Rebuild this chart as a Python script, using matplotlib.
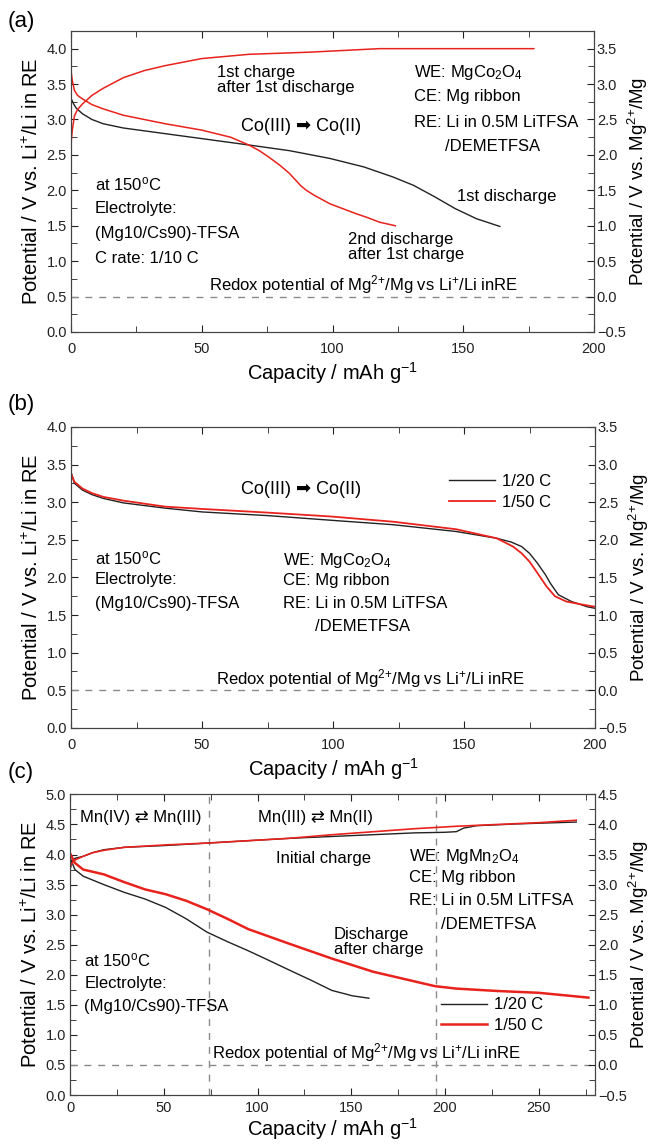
import numpy as np
import matplotlib
matplotlib.use("Agg")
import matplotlib.pyplot as plt
from matplotlib.ticker import MultipleLocator

plt.rcParams['font.family'] = ['Liberation Sans', 'DejaVu Sans']
plt.rcParams['mathtext.fontset'] = 'custom'
plt.rcParams['mathtext.rm'] = 'Liberation Sans'
plt.rcParams['mathtext.it'] = 'Liberation Sans:italic'

RED = '#e8221c'
BLK = '#222222'
GRAY = '#8a8a8a'

# ---- panel (a): MgCo2O4, 1/10 C ----
a_dis1_cap = [0, 1, 2, 4.4, 8, 12.3, 20, 36, 50, 68, 83.5, 99, 112, 123, 131, 139, 147, 155, 164]
a_dis1_v = [3.30, 3.22, 3.16, 3.08, 3.00, 2.94, 2.88, 2.80, 2.73, 2.64, 2.56, 2.45, 2.33, 2.19, 2.07, 1.91, 1.74, 1.60, 1.49]
a_chg1_cap = [0, 0.5, 1.3, 2.5, 4.4, 8, 12.3, 20, 28, 36, 50, 68, 91, 118, 140, 160, 177]
a_chg1_v = [2.66, 2.85, 3.05, 3.14, 3.22, 3.34, 3.44, 3.59, 3.69, 3.76, 3.86, 3.92, 3.95, 4.00, 4.00, 4.00, 4.00]
a_dis2_cap = [0, 0.5, 1.3, 2.5, 4.4, 8, 12.3, 20, 36, 50, 61, 68, 72, 75.6, 80, 83.5, 86, 88, 90, 93, 96, 99, 104, 109, 113, 118, 124]
a_dis2_v = [3.69, 3.55, 3.41, 3.34, 3.29, 3.21, 3.15, 3.06, 2.94, 2.85, 2.75, 2.64, 2.56, 2.47, 2.35, 2.24, 2.14, 2.06, 2.00, 1.93, 1.87, 1.81, 1.74, 1.67, 1.62, 1.55, 1.50]

# ---- panel (b): MgCo2O4, rate comparison ----
b_20_cap = [0, 1.3, 4.4, 8, 12.3, 20, 36, 50, 75.6, 99, 123, 147, 162.5, 168, 172, 175, 178, 181, 183, 186, 191, 197, 200]
b_20_v = [3.40, 3.25, 3.16, 3.10, 3.05, 2.99, 2.92, 2.87, 2.82, 2.76, 2.70, 2.61, 2.52, 2.47, 2.41, 2.32, 2.19, 2.04, 1.92, 1.77, 1.68, 1.61, 1.59]
b_50_cap = [0, 1.3, 4.4, 8, 12.3, 20, 36, 50, 75.6, 99, 123, 147, 162.5, 168.7, 172, 175, 178, 181.5, 184.7, 189, 195, 200]
b_50_v = [3.38, 3.27, 3.18, 3.12, 3.07, 3.02, 2.94, 2.91, 2.86, 2.81, 2.74, 2.64, 2.52, 2.41, 2.32, 2.21, 2.06, 1.88, 1.75, 1.68, 1.64, 1.61]

# ---- panel (c): MgMn2O4 ----
c_chg20_cap = [0, 1.5, 3, 7, 12, 18, 29, 51, 73, 95, 117.5, 139.6, 161.7, 183.7, 200, 206, 210, 217, 239, 270]
c_chg20_v = [3.75, 3.92, 3.94, 3.97, 4.03, 4.08, 4.12, 4.15, 4.19, 4.23, 4.27, 4.30, 4.33, 4.36, 4.37, 4.38, 4.44, 4.48, 4.51, 4.54]
c_chg50_cap = [0, 2, 7, 12, 18, 29, 51, 73, 95, 117, 140, 162, 184, 206, 228, 250, 270]
c_chg50_v = [3.80, 3.90, 3.97, 4.03, 4.07, 4.12, 4.16, 4.19, 4.23, 4.27, 4.33, 4.38, 4.43, 4.47, 4.50, 4.53, 4.57]
c_dis20_cap = [0, 2.6, 7, 18, 29, 40, 51, 62, 73, 84, 95, 106, 117.5, 128.5, 139.6, 150.6, 159.4]
c_dis20_v = [3.95, 3.75, 3.64, 3.50, 3.37, 3.26, 3.12, 2.93, 2.71, 2.55, 2.40, 2.24, 2.07, 1.91, 1.74, 1.65, 1.61]
c_dis50_cap = [0, 2.6, 7, 18, 29, 40, 51, 62, 73, 84, 95, 117.5, 139.6, 161.7, 183.7, 194.7, 206, 228, 250, 276.5]
c_dis50_v = [4.02, 3.86, 3.75, 3.67, 3.54, 3.42, 3.34, 3.23, 3.09, 2.93, 2.76, 2.51, 2.27, 2.05, 1.89, 1.81, 1.77, 1.73, 1.70, 1.62]
c_region_bounds = [74, 195]

redox_v = 0.5
redox_txt = 'Redox potential of Mg$^{2{+}}$/Mg vs Li$^{+}$/Li inRE'
fs_txt = 12

fig = plt.figure(figsize=(6.49, 11.46), dpi=100)


def setup(ax, xmax, ymax, xmajor, xpad=7, xlabpad=3):
    ax.set_xlim(0, xmax)
    ax.set_ylim(0, ymax)
    ax.xaxis.set_major_locator(MultipleLocator(xmajor))
    ax.xaxis.set_minor_locator(MultipleLocator(25))
    ax.yaxis.set_major_locator(MultipleLocator(0.5))
    ax.yaxis.set_minor_locator(MultipleLocator(0.25))
    ax.tick_params(which='both', direction='in', top=True, right=False, labelsize=10.5, colors='#222222', pad=3)
    ax.tick_params(axis='x', which='major', pad=xpad)
    ax.tick_params(which='major', length=5)
    ax.tick_params(which='minor', length=4)
    for s in ax.spines.values():
        s.set_color('#444444')
    ax.set_xlabel('Capacity / mAh g$^{-1}$', fontsize=14.5, labelpad=xlabpad)
    ax.set_ylabel('Potential / V vs. Li$^{+}$/Li in RE', fontsize=14.5, labelpad=3)
    ax.axhline(redox_v, color=GRAY, lw=1, ls=(0, (5, 5)))
    ax2 = ax.twinx()
    ax2.set_ylim(-0.5, ymax - 0.5)
    ax2.yaxis.set_major_locator(MultipleLocator(0.5))
    ax2.yaxis.set_minor_locator(MultipleLocator(0.25))
    ax2.tick_params(which='both', direction='in', labelsize=10.5, colors='#222222', pad=2)
    ax2.tick_params(which='major', length=5)
    ax2.tick_params(which='minor', length=4)
    for s in ax2.spines.values():
        s.set_color('#444444')
    ax2.set_ylabel('Potential / V vs. Mg$^{2{+}}$/Mg', fontsize=13.5, labelpad=0)
    ax2.yaxis.set_major_formatter(plt.FuncFormatter(lambda v, p: ('\u2212%.1f' % -v) if v < -0.01 else '%.1f' % abs(v)))
    return ax2


# (a)
axa = fig.add_axes([0.1094, 0.7103, 0.8059, 0.2627])
setup(axa, 200, 4.25, 50)
axa.plot(a_dis1_cap, a_dis1_v, color=BLK, lw=1)
axa.plot(a_chg1_cap, a_chg1_v, color=RED, lw=1.1)
axa.plot(a_dis2_cap, a_dis2_v, color=RED, lw=1.1)
axa.text(56, 3.56, '1st charge\nafter 1st discharge', fontsize=fs_txt, va='center', linespacing=1.0)
axa.text(131, 3.67, 'WE: MgCo$_2$O$_4$', fontsize=fs_txt, va='center')
axa.text(131, 3.32, 'CE: Mg ribbon', fontsize=fs_txt, va='center')
axa.text(131, 2.96, 'RE: Li in 0.5M LiTFSA', fontsize=fs_txt, va='center')
axa.text(143, 2.62, '/DEMETFSA', fontsize=fs_txt, va='center')
axa.text(65, 2.90, 'Co(III) \u27a1 Co(II)', fontsize=13, va='center')
axa.text(9, 2.09, 'at 150$^{\\mathrm{o}}$C', fontsize=fs_txt, va='center')
axa.text(9, 1.74, 'Electrolyte:', fontsize=fs_txt, va='center')
axa.text(9, 1.39, '(Mg10/Cs90)-TFSA', fontsize=fs_txt, va='center')
axa.text(9, 1.04, 'C rate: 1/10 C', fontsize=fs_txt, va='center')
axa.text(147.5, 1.91, '1st discharge', fontsize=fs_txt, va='center')
axa.text(106, 1.20, '2nd discharge\nafter 1st charge', fontsize=fs_txt, va='center', linespacing=1.0)
axa.text(52.6, 0.67, redox_txt, fontsize=fs_txt, va='center')
fig.text(0.012, 0.981, '(a)', fontsize=16, va='center')

# (b)
axb = fig.add_axes([0.1094, 0.3648, 0.8074, 0.2627])
setup(axb, 200, 4.0, 50)
axb.plot(b_20_cap, b_20_v, color=BLK, lw=1, label='1/20 C')
axb.plot(b_50_cap, b_50_v, color=RED, lw=1.3, label='1/50 C')
axb.text(65, 3.17, 'Co(III) \u27a1 Co(II)', fontsize=13, va='center')
axb.text(9.2, 2.26, 'at 150$^{\\mathrm{o}}$C', fontsize=fs_txt, va='center')
axb.text(9.2, 1.97, 'Electrolyte:', fontsize=fs_txt, va='center')
axb.text(9.2, 1.65, '(Mg10/Cs90)-TFSA', fontsize=fs_txt, va='center')
axb.text(80.8, 2.23, 'WE: MgCo$_2$O$_4$', fontsize=fs_txt, va='center')
axb.text(80.8, 1.96, 'CE: Mg ribbon', fontsize=fs_txt, va='center')
axb.text(80.8, 1.65, 'RE: Li in 0.5M LiTFSA', fontsize=fs_txt, va='center')
axb.text(93, 1.35, '/DEMETFSA', fontsize=fs_txt, va='center')
axb.text(55.5, 0.66, redox_txt, fontsize=fs_txt, va='center')
axb.legend(loc='center left', bbox_to_anchor=(0.705, 0.785), frameon=False, fontsize=fs_txt,
           handlelength=2.8, handletextpad=0.4, labelspacing=0.35, borderpad=0)
fig.text(0.012, 0.647, '(b)', fontsize=16, va='center')

# (c)
axc = fig.add_axes([0.1079, 0.0445, 0.8089, 0.2623])
setup(axc, 280, 5.0, 50, xpad=4, xlabpad=1)
for xb in c_region_bounds:
    axc.axvline(xb, color=GRAY, lw=1, ls=(0, (5, 5)))
axc.plot(c_chg20_cap, c_chg20_v, color=BLK, lw=1)
axc.plot(c_dis20_cap, c_dis20_v, color=BLK, lw=1, label='1/20 C')
axc.plot(c_chg50_cap, c_chg50_v, color=RED, lw=1.2)
axc.plot(c_dis50_cap, c_dis50_v, color=RED, lw=1.8, label='1/50 C')
axc.text(5.3, 4.62, 'Mn(IV) \u21c4 Mn(III)', fontsize=fs_txt, va='center')
axc.text(100.5, 4.62, 'Mn(III) \u21c4 Mn(II)', fontsize=fs_txt, va='center')
axc.text(110, 3.93, 'Initial charge', fontsize=fs_txt, va='center')
axc.text(181, 3.97, 'WE: MgMn$_2$O$_4$', fontsize=fs_txt, va='center')
axc.text(181, 3.61, 'CE: Mg ribbon', fontsize=fs_txt, va='center')
axc.text(181, 3.23, 'RE: Li in 0.5M LiTFSA', fontsize=fs_txt, va='center')
axc.text(198, 2.84, '/DEMETFSA', fontsize=fs_txt, va='center')
axc.text(140.7, 2.54, 'Discharge\nafter charge', fontsize=fs_txt, va='center', linespacing=1.0)
axc.text(7.7, 2.24, 'at 150$^{\\mathrm{o}}$C', fontsize=fs_txt, va='center')
axc.text(7.7, 1.85, 'Electrolyte:', fontsize=fs_txt, va='center')
axc.text(7.7, 1.47, '(Mg10/Cs90)-TFSA', fontsize=fs_txt, va='center')
axc.text(75.5, 0.70, redox_txt, fontsize=fs_txt, va='center')
axc.legend(loc='center left', bbox_to_anchor=(0.69, 0.265), frameon=False, fontsize=fs_txt,
           handlelength=2.8, handletextpad=0.4, labelspacing=0.35, borderpad=0)
fig.text(0.012, 0.326, '(c)', fontsize=16, va='center')

fig.savefig('out.png', dpi=100)
